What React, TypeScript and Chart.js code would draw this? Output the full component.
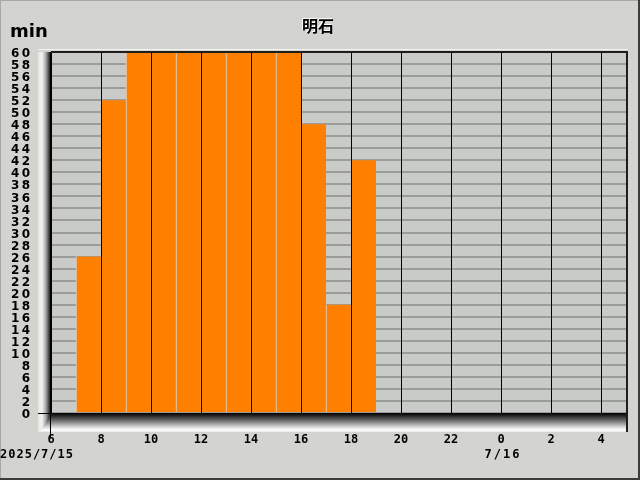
import React, { useEffect, useRef } from "react";
import { Chart, registerables } from "chart.js";

Chart.register(...registerables);

const TITLE = "明石";
const UNIT = "min";
const START_DATE = "2025/7/15";
const NEXT_DATE = "7/16";
const HOUR_MIN = 6;
const HOUR_MAX = 29;
const barHours = [7, 8, 9, 10, 11, 12, 13, 14, 15, 16, 17, 18];
const barMinutes = [26, 52, 60, 60, 60, 60, 60, 60, 60, 48, 18, 42];
const Y_MAX = 60;
const Y_STEP = 2;

const PAGE_BG = "#d3d4d0";
const PLOT_BG = "#c9cbc8";

const decorPlugin = {
  id: "decor",
  beforeDraw(chart: any) {
    const { ctx, chartArea: a, width, height } = chart;
    ctx.save();
    ctx.fillStyle = PAGE_BG;
    ctx.fillRect(0, 0, width, height);
    ctx.fillStyle = PLOT_BG;
    ctx.fillRect(a.left, a.top, a.right - a.left, a.bottom - a.top);
    ctx.restore();
  },
  afterDraw(chart: any) {
    const { ctx, chartArea: a, width, height } = chart;
    ctx.save();
    // left bevel
    const lg = ctx.createLinearGradient(38, 0, a.left, 0);
    lg.addColorStop(0, "#e4e4e2");
    lg.addColorStop(0.3, "#f4f4f4");
    lg.addColorStop(0.6, "#a8a8a8");
    lg.addColorStop(0.85, "#404040");
    lg.addColorStop(1, "#000000");
    ctx.fillStyle = lg;
    ctx.fillRect(38, a.top, a.left - 38, a.bottom - a.top + 19);
    // bottom bevel
    const bg = ctx.createLinearGradient(0, a.bottom, 0, a.bottom + 19);
    bg.addColorStop(0, "#000000");
    bg.addColorStop(0.15, "#262626");
    bg.addColorStop(0.45, "#7c7c7c");
    bg.addColorStop(0.75, "#dcdcdc");
    bg.addColorStop(0.9, "#ffffff");
    bg.addColorStop(1, "#e4e4e2");
    ctx.fillStyle = bg;
    ctx.beginPath();
    ctx.moveTo(a.left, a.bottom);
    ctx.lineTo(a.right + 1, a.bottom);
    ctx.lineTo(a.right + 1, a.bottom + 19);
    ctx.lineTo(a.left - 10, a.bottom + 19);
    ctx.closePath();
    ctx.fill();
    // top light line
    ctx.fillStyle = "#f2f2f2";
    ctx.fillRect(38, a.top - 3, a.right - 38 + 2, 1);
    // top dark border
    ctx.fillStyle = "#1e1e1e";
    ctx.fillRect(a.left, a.top - 1, a.right - a.left + 2, 2);
    // right dark border
    ctx.fillRect(a.right, a.top - 1, 2, a.bottom - a.top + 20);
    // y axis line
    ctx.fillStyle = "#000000";
    ctx.fillRect(a.left - 1, a.top, 1, a.bottom - a.top + 24);
    ctx.fillRect(38, a.bottom, a.left - 38, 1);
    // frame
    ctx.fillStyle = "#a8a8a6";
    ctx.fillRect(0, 0, width, 1);
    ctx.fillRect(0, 0, 1, height);
    ctx.fillStyle = "#3c3c3c";
    ctx.fillRect(0, height - 2, width, 2);
    ctx.fillRect(width - 2, 0, 2, height);
    // title
    ctx.font = "bold 16px 'Noto Sans CJK JP'";
    ctx.textAlign = "center";
    ctx.textBaseline = "alphabetic";
    ctx.fillStyle = "#ffffff";
    ctx.fillText(TITLE, 317, 31);
    ctx.fillStyle = "#000000";
    ctx.fillText(TITLE, 318, 32);
    // unit
    ctx.font = "bold 18px 'DejaVu Sans'";
    ctx.textAlign = "left";
    ctx.fillText(UNIT, 10, 37);
    // dates
    ctx.font = "bold 12px 'DejaVu Sans Mono'";
    (ctx as any).letterSpacing = "1px";
    ctx.textAlign = "left";
    ctx.fillText(START_DATE, 0, 458);
    (ctx as any).letterSpacing = "2px";
    ctx.textAlign = "center";
    const xs = chart.scales.x;
    ctx.fillText(NEXT_DATE, xs.getPixelForValue(24) + 2, 458);
    (ctx as any).letterSpacing = "0px";
    ctx.restore();
  },
};

export default function App() {
  const ref = useRef<HTMLCanvasElement>(null);
  useEffect(() => {
    document.body.style.margin = "0";
    const chart = new Chart(ref.current!, {
      type: "bar",
      data: {
        datasets: [
          {
            data: barHours.map((h, i) => ({ x: h + 0.5, y: barMinutes[i] })),
            backgroundColor: "#ff8000",
            borderColor: "#d6d6d4",
            borderWidth: { left: 1, right: 0, top: 0, bottom: 0 },
            borderSkipped: false,
            barPercentage: 1,
            categoryPercentage: 1,
          } as any,
        ],
      },
      options: {
        animation: false,
        responsive: false,
        maintainAspectRatio: false,
        layout: { padding: { left: 0, right: 14, top: 52, bottom: 0 } },
        plugins: { legend: { display: false }, tooltip: { enabled: false } },
        scales: {
          x: {
            type: "linear",
            min: HOUR_MIN,
            max: HOUR_MAX,
            offset: false,
            afterFit: (s: any) => {
              s.height = 67;
            },
            grid: { offset: false, color: "#000000", lineWidth: 1, drawTicks: false, z: 1 },
            border: { display: false },
            ticks: {
              stepSize: 2,
              includeBounds: false,
              autoSkip: false,
              maxRotation: 0,
              padding: 20,
              color: "#000000",
              font: { family: "DejaVu Sans Mono", size: 12, weight: "bold" },
              callback: (v: any) => String(Number(v) % 24),
            },
          } as any,
          y: {
            min: 0,
            max: Y_MAX,
            afterFit: (s: any) => {
              s.width = 51;
            },
            grid: { color: "#9c9d9b", lineWidth: 2, drawTicks: false },
            border: { display: false },
            ticks: {
              stepSize: Y_STEP,
              autoSkip: false,
              padding: 21,
              labelOffset: 2,
              color: "#000000",
              font: { family: "DejaVu Sans", size: 12, weight: "bold" },
              callback: (v: any) => String(v).split("").join("\u2009"),
            },
          } as any,
        },
      },
      plugins: [decorPlugin],
    });
    return () => chart.destroy();
  }, []);
  return (
    <div style={{ position: "fixed", left: 0, top: 0, width: 640, height: 480 }}>
      <canvas ref={ref} width={640} height={480} style={{ width: 640, height: 480, display: "block" }} />
    </div>
  );
}
